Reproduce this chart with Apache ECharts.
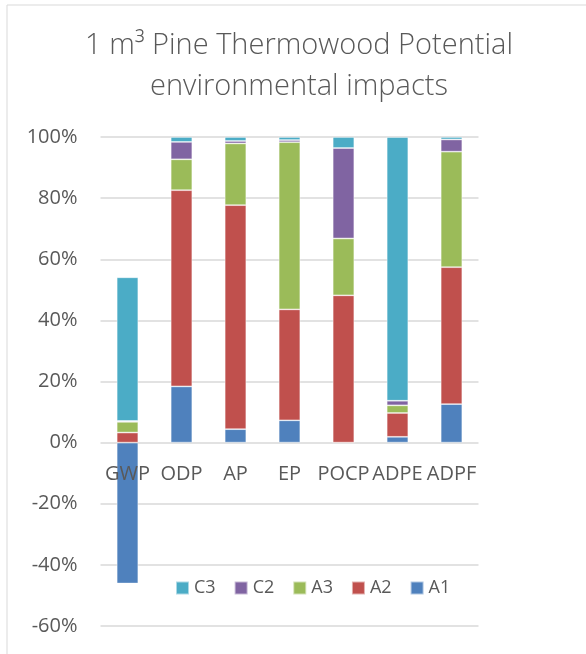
<!DOCTYPE html>
<html>
<head>
<meta charset="utf-8">
<script src="https://cdn.jsdelivr.net/npm/echarts@6/dist/echarts.min.js"></script>
<style>
  html, body { margin: 0; padding: 0; background: #ffffff; }
  #chart { width: 586px; height: 654px; }
</style>
</head>
<body>
<div id="chart"></div>
<script>
// Impact categories (x axis)
const categories = ['GWP', 'ODP', 'AP', 'EP', 'POCP', 'ADPE', 'ADPF'];

// Share of each life-cycle module per impact category, in percent
const A1 = [-46.1, 18.4, 4.4, 7.3, 0.0, 1.9, 12.6];
const A2 = [3.3, 64.2, 73.3, 36.3, 48.2, 7.8, 44.8];
const A3 = [3.5, 10.1, 20.2, 54.7, 18.6, 2.5, 37.8];
const C2 = [0.3, 5.7, 0.8, 0.7, 29.6, 1.5, 4.0];
const C3 = [47.0, 1.6, 1.3, 1.0, 3.6, 86.3, 0.8];

// Value-axis range and step (percent)
const yMin = -60, yMax = 100, yStep = 20;

const legendOrder = ['C3', 'C2', 'A3', 'A2', 'A1'];

const FONT = '"Open Sans", "Noto Sans", sans-serif';
const TEXT = '#595959';
const TITLE_FONT = '300 29px "Open Sans", "Noto Sans", sans-serif';

// Plot box in pixels
const GRID_TOP = 137, GRID_BOTTOM = 28;
const PLOT_H = 654 - GRID_TOP - GRID_BOTTOM;
// Category labels sit under the 0% line, so lift the axis by the distance from the bottom edge to zero
const zeroLift = PLOT_H * (0 - yMin) / (yMax - yMin);

const stackSeries = [
  { name: 'A1', data: A1, color: '#4F81BD' },
  { name: 'A2', data: A2, color: '#C0504D' },
  { name: 'A3', data: A3, color: '#9BBB59' },
  { name: 'C2', data: C2, color: '#8064A2' },
  { name: 'C3', data: C3, color: '#4BACC6' }
];

const chart = echarts.init(document.getElementById('chart'), null, { renderer: 'canvas' });

chart.setOption({
  animation: false,
  backgroundColor: '#ffffff',
  graphic: [
    {
      type: 'rect',
      silent: true,
      shape: { x: 7, y: 5, width: 700, height: 800 },
      style: { fill: 'none', stroke: '#d9d9d9', lineWidth: 1 }
    },
    {
      type: 'text',
      silent: true,
      x: 299, y: 46,
      style: {
        text: '1 m³ Pine Thermowood Potential',
        font: TITLE_FONT,
        fill: TEXT, textAlign: 'center', textVerticalAlign: 'middle'
      }
    },
    {
      type: 'text',
      silent: true,
      x: 299, y: 87,
      style: {
        text: 'environmental impacts',
        font: TITLE_FONT,
        fill: TEXT, textAlign: 'center', textVerticalAlign: 'middle'
      }
    }
  ],
  legend: {
    data: legendOrder,
    left: 170,
    top: 574,
    itemWidth: 13,
    itemHeight: 13,
    itemGap: 18,
    icon: 'rect',
    textStyle: { fontFamily: FONT, fontSize: 18, color: TEXT }
  },
  grid: {
    left: 100.5, right: 107.5, top: GRID_TOP, bottom: GRID_BOTTOM,
    containLabel: false, outerBoundsMode: 'none'
  },
  xAxis: {
    type: 'category',
    data: categories,
    z: 10,
    offset: -zeroLift,
    axisLine: { show: false, onZero: false },
    axisTick: { show: false },
    axisLabel: {
      fontFamily: FONT, fontSize: 20, color: TEXT, margin: 22,
      interval: 0, hideOverlap: false
    }
  },
  yAxis: {
    type: 'value',
    min: yMin, max: yMax, interval: yStep,
    axisLine: { show: false },
    axisTick: { show: false },
    splitLine: { lineStyle: { color: '#d9d9d9', width: 1.5 } },
    axisLabel: { fontFamily: FONT, fontSize: 20, color: TEXT, margin: 23, formatter: '{value}%' }
  },
  series: stackSeries.map(s => ({
    name: s.name,
    type: 'bar',
    stack: 'total',
    barWidth: '40%',
    data: s.data,
    itemStyle: { color: s.color, borderColor: 'rgba(255,255,255,0.55)', borderWidth: 0.8 }
  }))
});
</script>
</body>
</html>
